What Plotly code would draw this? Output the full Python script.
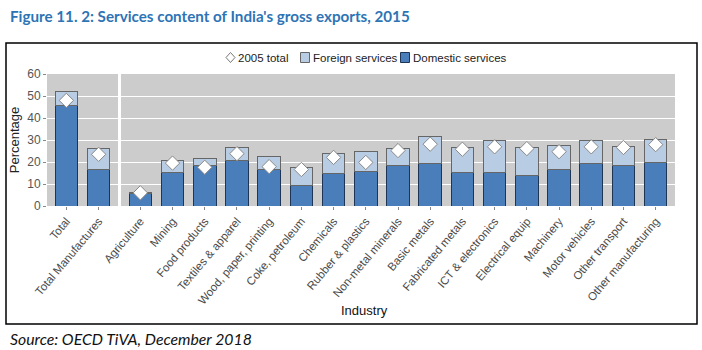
import plotly.graph_objects as go

left_cats = ["Total", "Total Manufactures"]
right_cats = ["Agriculture", "Mining", "Food products", "Textiles & apparel",
              "Wood, paper, printing", "Coke, petroleum", "Chemicals",
              "Rubber & plastics", "Non-metal minerals", "Basic metals",
              "Fabricated metals", "ICT & electronics", "Electrical equip",
              "Machinery", "Motor vehicles", "Other transport", "Other manufacturing"]

left_domestic = [45.5, 16.8]
left_total = [52.1, 26.1]
left_2005 = [48.0, 23.5]

right_domestic = [5.5, 15.4, 18.6, 20.6, 16.5, 9.5, 15.0, 15.9, 18.2, 19.5,
                  15.4, 15.4, 13.7, 16.8, 19.2, 18.3, 19.7]
right_total = [6.3, 20.5, 21.8, 26.4, 22.3, 17.3, 23.7, 25.0, 26.0, 31.8,
               26.4, 29.6, 26.4, 27.3, 29.6, 26.9, 30.2]
right_2005 = [6.0, 19.5, 17.6, 23.8, 17.9, 16.6, 22.1, 19.8, 25.2, 28.1,
              25.8, 26.9, 26.1, 24.7, 26.9, 26.6, 27.9]

legend_labels = ["2005 total", "Foreign services", "Domestic services"]

left_foreign = [t - d for t, d in zip(left_total, left_domestic)]
right_foreign = [t - d for t, d in zip(right_total, right_domestic)]

DOM = "#4A7EBB"
FOR = "#B8CCE4"
BG = "#CCCCCC"
DOM_LINE = "#1F3556"
FOR_LINE = "#666666"

fig = go.Figure()

for cats, dom, fore, t05, xa, ya in [
    (left_cats, left_domestic, left_foreign, left_2005, "x", "y"),
    (right_cats, right_domestic, right_foreign, right_2005, "x2", "y2"),
]:
    fig.add_trace(go.Bar(x=cats, y=dom, name=legend_labels[2], marker_color=DOM,
                         marker_line=dict(color=DOM_LINE, width=1), width=0.7,
                         xaxis=xa, yaxis=ya, showlegend=False))
    fig.add_trace(go.Bar(x=cats, y=fore, name=legend_labels[1], marker_color=FOR,
                         marker_line=dict(color=FOR_LINE, width=1), width=0.7,
                         xaxis=xa, yaxis=ya, showlegend=False))
    fig.add_trace(go.Scatter(x=cats, y=t05, name=legend_labels[0], mode="markers",
                             marker=dict(symbol="diamond", size=11, color="white",
                                         line=dict(color="#888888", width=1)),
                             xaxis=xa, yaxis=ya, showlegend=False))


def px(x):
    return (x - 47) / 628


def py(y):
    return (206 - y) / 132


axis_font = dict(family="Arial, Liberation Sans, sans-serif", size=11.5, color="#4a4a4a")
leg_font = dict(family="Arial, Liberation Sans, sans-serif", size=11.5, color="#222222")

shapes = [
    dict(type="rect", xref="paper", yref="paper",
         x0=px(6), x1=px(697), y0=py(324), y1=py(43),
         line=dict(color="black", width=1.5), fillcolor="rgba(0,0,0,0)", layer="below"),
    # legend: diamond
    dict(type="path", xref="paper", yref="paper",
         path=f"M {px(230.5)} {py(52.5)} L {px(235)} {py(57.5)} L {px(230.5)} {py(62.5)} L {px(226)} {py(57.5)} Z",
         line=dict(color="#777777", width=1), fillcolor="white"),
    # legend: foreign box
    dict(type="rect", xref="paper", yref="paper",
         x0=px(300.5), x1=px(309.5), y0=py(62.5), y1=py(52.5),
         line=dict(color=FOR_LINE, width=1), fillcolor=FOR),
    # legend: domestic box
    dict(type="rect", xref="paper", yref="paper",
         x0=px(400.5), x1=px(409.5), y0=py(62.5), y1=py(52.5),
         line=dict(color=DOM_LINE, width=1), fillcolor=DOM),
]

annotations = [
    dict(text="<b>Figure 11. 2: Services content of India's gross exports, 2015</b>",
         xref="paper", yref="paper", x=px(8), y=py(16),
         xanchor="left", yanchor="middle", showarrow=False,
         font=dict(family="Lato, sans-serif", size=15.2, color="#2E74B5")),
    dict(text="<i>Source: OECD TiVA, December 2018</i>",
         xref="paper", yref="paper", x=px(8), y=py(338),
         xanchor="left", yanchor="middle", showarrow=False,
         font=dict(family="Lato, sans-serif", size=15.8, color="#111111")),
    dict(text="Industry", xref="paper", yref="paper", x=px(364), y=py(310),
         xanchor="center", yanchor="middle", showarrow=False,
         font=dict(family="Arial, Liberation Sans, sans-serif", size=13, color="#111111")),
]
for lx, lab in zip([236, 311, 410.5], legend_labels):
    annotations.append(dict(text=lab, xref="paper", yref="paper", x=px(lx), y=py(57.5),
                            xanchor="left", yanchor="middle", showarrow=False,
                            font=leg_font))

fig.update_layout(
    width=702, height=350,
    margin=dict(l=47, r=27, t=74, b=144),
    paper_bgcolor="white", plot_bgcolor=BG,
    barmode="stack", showlegend=False,
    font=dict(family="Arial, Liberation Sans, sans-serif", size=12, color="#222222"),
    xaxis=dict(domain=[0, 71 / 628], range=[-0.6, 1.6], tickangle=-50,
               tickfont=axis_font, ticks="outside", ticklen=3, tickcolor="#888888",
               showgrid=False, fixedrange=True),
    xaxis2=dict(domain=[74 / 628, 1], range=[-0.6, 16.6], tickangle=-50,
                tickfont=axis_font, ticks="outside", ticklen=3, tickcolor="#888888",
                showgrid=False, anchor="y2", automargin=False),
    yaxis=dict(range=[0, 60], dtick=10, gridcolor="white", gridwidth=1,
               ticks="outside", ticklen=3, tickcolor="#888888",
               tickfont=dict(size=12, color="#555555"),
               title=dict(text="Percentage", font=dict(size=13, color="#222222"),
                          standoff=4),
               zeroline=False),
    yaxis2=dict(range=[0, 60], dtick=10, gridcolor="white", gridwidth=1,
                anchor="x2", matches="y", showticklabels=False, zeroline=False),
    shapes=shapes,
    annotations=annotations,
)

fig.write_html("out.html")
